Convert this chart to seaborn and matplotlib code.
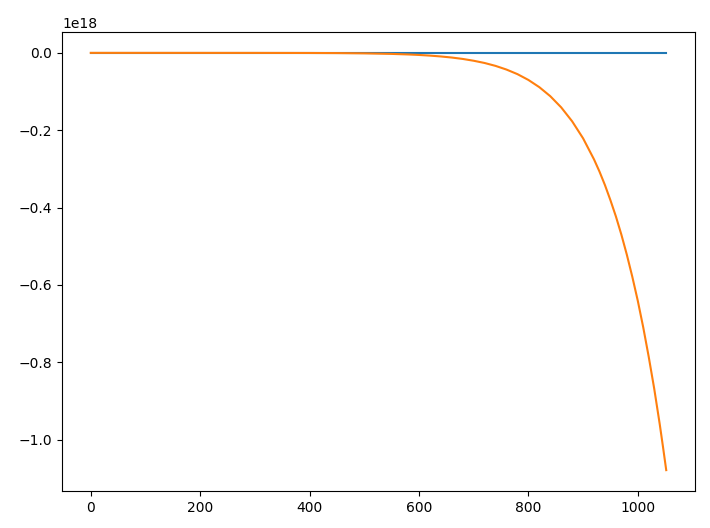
import matplotlib
matplotlib.use("Agg")
import matplotlib.pyplot as plt
import seaborn as sns
import pandas as pd

# Blue series (flat at zero on this scale)
blue_x = [0, 200, 400, 600, 800, 1000, 1052]
blue_y = [0.0, 0.0, 0.0, 0.0, 0.0, 0.0, 0.0]

# Orange series (values in units of 1e18)
orange_x = [0, 300, 400, 450, 500, 550, 580, 600, 620, 640, 660, 680, 700, 720,
            740, 760, 780, 800, 820, 840, 860, 880, 900, 920, 930, 940, 950, 960,
            970, 980, 990, 1000, 1010, 1020, 1030, 1040, 1046, 1052]
orange_y = [0.0, -0.0001, -0.0003, -0.0006, -0.0013, -0.0027, -0.0041, -0.0054,
            -0.0071, -0.0093, -0.0121, -0.0157, -0.0204, -0.0262, -0.0337, -0.0432,
            -0.055, -0.070, -0.0887, -0.112, -0.141, -0.177, -0.221, -0.2755,
            -0.307, -0.342, -0.381, -0.423, -0.470, -0.522, -0.579, -0.641,
            -0.710, -0.786, -0.868, -0.959, -1.018, -1.079]

SCALE = 1e18

df_blue = pd.DataFrame({"x": blue_x, "y": [v * SCALE for v in blue_y]})
df_orange = pd.DataFrame({"x": orange_x, "y": [v * SCALE for v in orange_y]})

fig = plt.figure(figsize=(7.10, 5.28), dpi=100)
ax = fig.add_axes([62 / 710, 1 - 491 / 528, (695 - 62) / 710, (491 - 32) / 528])

sns.lineplot(data=df_blue, x="x", y="y", ax=ax, color="#1f77b4", linewidth=1.5,
             errorbar=None, estimator=None)
sns.lineplot(data=df_orange, x="x", y="y", ax=ax, color="#ff7f0e", linewidth=1.5,
             errorbar=None, estimator=None)

ax.set_xlabel("")
ax.set_ylabel("")
ax.set_xticks([0, 200, 400, 600, 800, 1000])
ax.set_yticks([0, -0.2e18, -0.4e18, -0.6e18, -0.8e18, -1.0e18])
ax.tick_params(labelsize=10)

fig.savefig("out.png", dpi=100)
